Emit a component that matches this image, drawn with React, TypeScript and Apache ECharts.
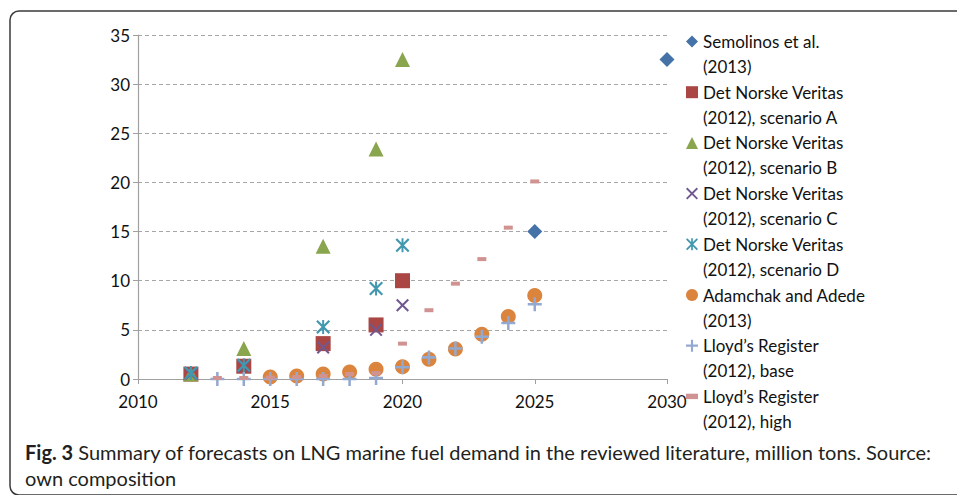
import React, { useEffect, useRef } from "react";
import * as echarts from "echarts";

const FONT = "Lato";

const semolinosYears = [2025, 2030];
const semolinosValues = [15, 32.5];

const dnvYears = [2012, 2014, 2017, 2019, 2020];
const dnvA = [0.5, 1.3, 3.6, 5.5, 10];
const dnvB = [0.5, 3.1, 13.5, 23.4, 32.5];
const dnvC = [0.5, 1.3, 3.2, 5.0, 7.5];
const dnvD = [0.6, 1.4, 5.3, 9.2, 13.6];

const adamchakYears = [2015, 2016, 2017, 2018, 2019, 2020, 2021, 2022, 2023, 2024, 2025];
const adamchakValues = [0.2, 0.3, 0.5, 0.7, 1.0, 1.25, 2.0, 3.05, 4.55, 6.35, 8.5];

const lloydYears = [2013, 2014, 2015, 2016, 2017, 2018, 2019, 2020, 2021, 2022, 2023, 2024, 2025];
const lloydBase = [0, 0, 0, 0, 0, 0, 0.1, 1.2, 2.2, 3.1, 4.3, 5.7, 7.6];
const lloydHigh = [0.1, 0.1, 0.15, 0.2, 0.3, 0.5, 0.6, 3.6, 7.0, 9.7, 12.2, 15.4, 20.1];

const seriesNames = [
  "Semolinos et al.\n(2013)",
  "Det Norske Veritas\n(2012), scenario A",
  "Det Norske Veritas\n(2012), scenario B",
  "Det Norske Veritas\n(2012), scenario C",
  "Det Norske Veritas\n(2012), scenario D",
  "Adamchak and Adede\n(2013)",
  "Lloyd\u2019s Register\n(2012), base",
  "Lloyd\u2019s Register\n(2012), high",
];

const seriesColors = ["#4572A7", "#AA4643", "#89A54E", "#71588F", "#4198AF", "#DB843D", "#93A9CF", "#D19392"];

const xTicks = [2010, 2015, 2020, 2025, 2030];

const captionLabel = "Fig. 3";
const caption1 = "Summary of forecasts on LNG marine fuel demand in the reviewed literature, million tons. Source:";
const caption2 = "own composition";

const PLUS = "path://M4.1,0H5.9V4.1H10V5.9H5.9V10H4.1V5.9H0V4.1H4.1Z";
const CROSS = "path://M0,1.1L1.1,0L10,8.9L8.9,10Z M10,1.1L1.1,10L0,8.9L8.9,0Z";
const STAR = "path://M0,1.1L1.1,0L10,8.9L8.9,10Z M10,1.1L1.1,10L0,8.9L8.9,0Z M4.3,0H5.7V10H4.3Z";
const DASH = "path://M0,0H10V4.5H0Z";

function pts(xs: number[], ys: number[]) {
  return xs.map((x, i) => [x, ys[i]]);
}

export default function App() {
  const ref = useRef<HTMLDivElement>(null);
  useEffect(() => {
    document.body.style.margin = "0";
    const chart = echarts.init(ref.current!, undefined, { renderer: "svg" });
    const defs = [
      { data: pts(semolinosYears, semolinosValues), symbol: "diamond", size: 15 },
      { data: pts(dnvYears, dnvA), symbol: "rect", size: 15 },
      { data: pts(dnvYears, dnvB), symbol: "triangle", size: 15 },
      { data: pts(dnvYears, dnvC), symbol: CROSS, size: 13 },
      { data: pts(dnvYears, dnvD), symbol: STAR, size: 14 },
      { data: pts(adamchakYears, adamchakValues), symbol: "circle", size: 15 },
      { data: pts(lloydYears, lloydBase), symbol: PLUS, size: 14 },
      { data: pts(lloydYears, lloydHigh), symbol: DASH, size: [9, 4] },
    ];
    const legendIcons = ["diamond", "rect", "triangle", CROSS, STAR, "circle", PLUS, DASH];
    chart.setOption({
      animation: false,
      textStyle: { fontFamily: FONT },
      graphic: [
        {
          type: "rect",
          shape: { x: 10, y: 11, width: 1300, height: 484, r: 9 },
          style: { fill: "none", stroke: "#3a3a3a", lineWidth: 1.5 },
          silent: true,
        },
      ],
      title: {
        left: 20,
        top: 434,
        text: "{b|" + captionLabel + "} " + caption1 + "\n" + caption2,
        textStyle: {
          fontFamily: FONT,
          fontSize: 20,
          fontWeight: "normal",
          color: "#231f20",
          lineHeight: 26,
          rich: {
            b: { fontFamily: FONT, fontSize: 20, fontWeight: "bold", color: "#231f20", lineHeight: 26 },
          },
        },
      },
      grid: { left: 138, top: 35, width: 529, height: 344 },
      legend: {
        orient: "vertical",
        left: 681,
        top: 0,
        itemWidth: 12,
        itemHeight: 12,
        itemGap: -24.3,
        padding: [4, 5, 5, 5],
        formatter: (n: string) => "\u00a0\n" + n,
        data: seriesNames.map((n, i) => ({ name: n, icon: legendIcons[i] })),
        textStyle: {
          fontFamily: FONT,
          fontSize: 17,
          color: "#111",
          lineHeight: 25,
        },
      },
      xAxis: {
        type: "value",
        min: 2010,
        max: 2030,
        interval: 5,
        axisLine: { show: true, lineStyle: { color: "#A0A0A0", width: 1.2 } },
        axisTick: { show: true, length: 5, lineStyle: { color: "#A0A0A0" } },
        axisLabel: {
          fontFamily: FONT,
          fontSize: 17,
          color: "#111",
          margin: 14,
          formatter: (v: number) => (xTicks.includes(v) ? String(v) : ""),
        },
        splitLine: { show: false },
      },
      yAxis: {
        type: "value",
        min: 0,
        max: 35,
        interval: 5,
        axisLine: { show: true, lineStyle: { color: "#A0A0A0", width: 1.2 } },
        axisTick: { show: true, length: 5, lineStyle: { color: "#A0A0A0" } },
        axisLabel: { fontFamily: FONT, fontSize: 17, color: "#111", margin: 8 },
        splitLine: { show: true, lineStyle: { color: "#A6A6A6", type: [4, 3], width: 1 } },
      },
      series: defs.map((d, i) => ({
        name: seriesNames[i],
        type: "scatter",
        data: d.data,
        symbol: d.symbol,
        symbolSize: d.size,
        clip: false,
        itemStyle: { color: seriesColors[i], opacity: 1 },
        emphasis: { disabled: true },
        z: 2 + i,
      })),
    });
    return () => chart.dispose();
  }, []);
  return <div ref={ref} style={{ width: 957, height: 495 }} />;
}
